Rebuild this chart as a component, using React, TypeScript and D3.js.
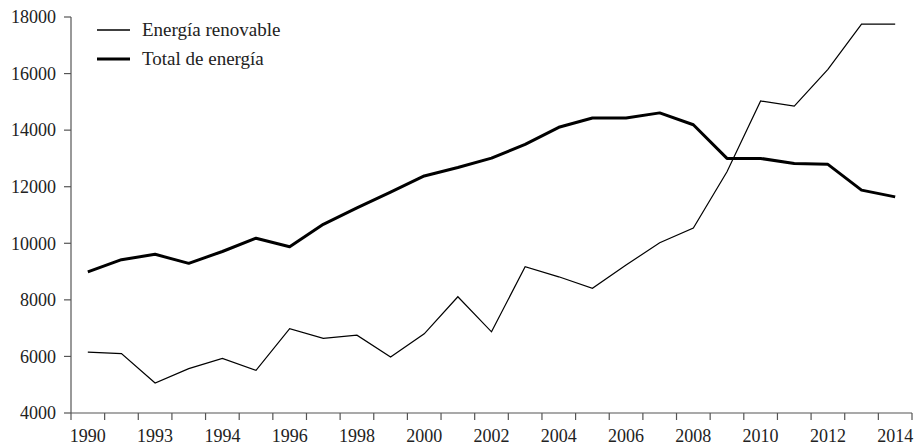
import React, { useEffect, useRef } from "react";
import * as d3 from "d3";

// 25 yearly points, labels shown on every other band (as printed in the source)
const years = d3.range(1990, 2015).map(String);
const tickLabels = ["1990", "1993", "1994", "1996", "1998", "2000", "2002", "2004", "2006", "2008", "2010", "2012", "2014"];
const renovable = [6150, 6100, 5060, 5570, 5930, 5510, 6980, 6640, 6750, 5980, 6800, 8110, 6870, 9170, 8815, 8410, 9230, 10020, 10540, 12530, 15030, 14850, 16150, 17750, 17750];
const total = [8990, 9420, 9610, 9290, 9710, 10180, 9880, 10670, 11250, 11810, 12380, 12680, 13010, 13500, 14100, 14430, 14430, 14610, 14190, 13000, 13000, 12820, 12790, 11880, 11640];
const yTicks = [4000, 6000, 8000, 10000, 12000, 14000, 16000, 18000];

const W = 915;
const H = 447;
const font = "'Liberation Serif', 'DejaVu Serif', serif";

function App() {
  const ref = useRef(null);

  useEffect(() => {
    const svg = d3.select(ref.current);
    svg.selectAll("*").remove();

    const x = d3.scaleBand().domain(years).range([71, 912]).padding(0);
    const y = d3.scaleLinear().domain([4000, 18000]).range([413, 17]);
    const axisColor = "#555";

    // y axis
    svg.append("line")
      .attr("x1", 71).attr("x2", 71)
      .attr("y1", y(18000)).attr("y2", y(4000))
      .attr("stroke", axisColor).attr("stroke-width", 1.2);
    const yt = svg.selectAll(".yt").data(yTicks).enter().append("g").attr("class", "yt");
    yt.append("line")
      .attr("x1", 64).attr("x2", 71)
      .attr("y1", (d) => y(d)).attr("y2", (d) => y(d))
      .attr("stroke", axisColor).attr("stroke-width", 1.2);
    yt.append("text")
      .attr("x", 56).attr("y", (d) => y(d))
      .attr("dy", "0.35em")
      .attr("text-anchor", "end")
      .attr("font-family", font).attr("font-size", 18).attr("fill", "#222")
      .text((d) => String(d));

    // x axis
    svg.append("line")
      .attr("x1", 71).attr("x2", 912)
      .attr("y1", y(4000)).attr("y2", y(4000))
      .attr("stroke", axisColor).attr("stroke-width", 1.2);
    const bounds = years.map((d) => x(d)).concat([912]);
    svg.selectAll(".xt").data(bounds).enter().append("line")
      .attr("class", "xt")
      .attr("x1", (d) => d).attr("x2", (d) => d)
      .attr("y1", y(4000)).attr("y2", y(4000) + 7)
      .attr("stroke", axisColor).attr("stroke-width", 1.2);
    svg.selectAll(".xl").data(tickLabels).enter().append("text")
      .attr("class", "xl")
      .attr("x", (d, i) => x(years[i * 2]) + x.bandwidth() / 2)
      .attr("y", 442)
      .attr("text-anchor", "middle")
      .attr("font-family", font).attr("font-size", 18).attr("fill", "#222")
      .text((d) => d);

    const line = d3.line()
      .x((d, i) => x(years[i]) + x.bandwidth() / 2)
      .y((d) => y(d));

    svg.append("path").datum(total)
      .attr("d", line).attr("fill", "none")
      .attr("stroke", "#000").attr("stroke-width", 3)
      .attr("stroke-linejoin", "round");
    svg.append("path").datum(renovable)
      .attr("d", line).attr("fill", "none")
      .attr("stroke", "#000").attr("stroke-width", 1.2);

    // legend
    const legend = [
      { label: "Energía renovable", w: 1.3, yy: 30 },
      { label: "Total de energía", w: 3, yy: 59 },
    ];
    const lg = svg.selectAll(".lg").data(legend).enter().append("g").attr("class", "lg");
    lg.append("line")
      .attr("x1", 97).attr("x2", 130)
      .attr("y1", (d) => d.yy).attr("y2", (d) => d.yy)
      .attr("stroke", "#000").attr("stroke-width", (d) => d.w);
    lg.append("text")
      .attr("x", 142).attr("y", (d) => d.yy)
      .attr("dy", "0.32em")
      .attr("font-family", font).attr("font-size", 19).attr("fill", "#222")
      .text((d) => d.label);
  }, []);

  return (
    <svg
      ref={ref}
      width={W}
      height={H}
      style={{ position: "absolute", left: 0, top: 0, background: "#fff" }}
    />
  );
}

export default App;
